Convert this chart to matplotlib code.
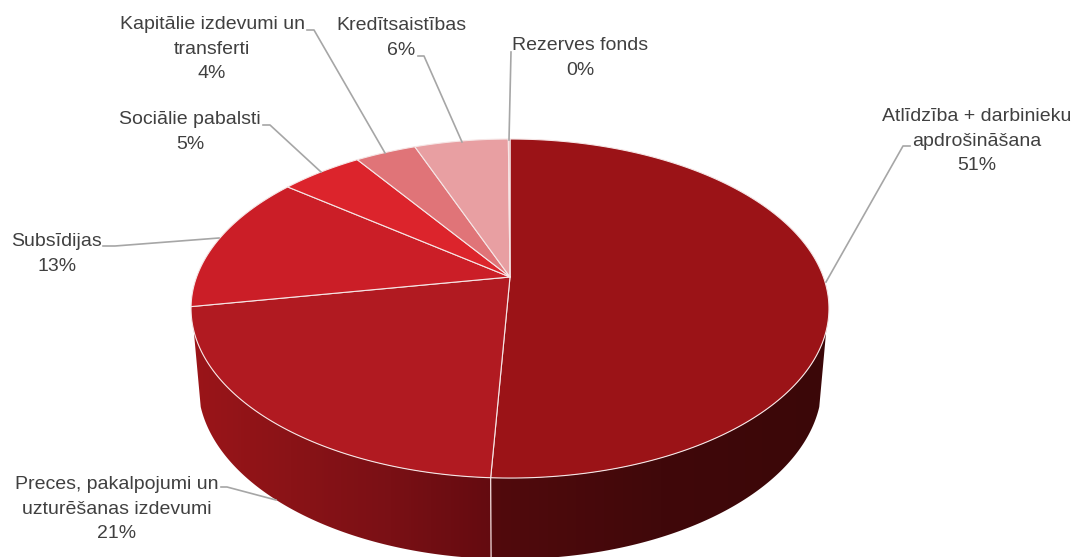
import numpy as np
import matplotlib
matplotlib.use('Agg')
import matplotlib.pyplot as plt
from matplotlib.colors import LinearSegmentedColormap
from matplotlib.patches import Polygon

plt.rcParams['font.family'] = ['Liberation Sans', 'DejaVu Sans']

# Data
labels = ['Atlīdzība + darbinieku\napdrošināšana', 'Preces, pakalpojumi un\nuzturēšanas izdevumi',
          'Subsīdijas', 'Sociālie pabalsti', 'Kapitālie izdevumi un\ntransferti',
          'Kredītsaistības', 'Rezerves fonds']
shares = [50.8, 21.4, 13.3, 5.0, 3.7, 5.7, 0.1]
colors = ['#9b1317', '#b11a21', '#cb1e27', '#dc242c', '#e07478', '#e89fa2', '#e9a5a8']

# Label centres and leader lines, in pixels
label_pos = [(977, 141), (117, 509), (57, 254), (190, 132), (212, 49), (401, 38), (580, 58)]
leaders = [
    [(826, 282), (903, 146), (910, 146)],
    [(221, 487), (227, 487), (276, 500)],
    [(103, 246), (115, 246), (219, 238)],
    [(263, 125), (270, 125), (321, 172)],
    [(307, 30), (314, 30), (385, 153)],
    [(418, 56), (424, 56), (462, 142)],
    [(511, 52), (509, 140)],
]


def project(theta, apex_y, a, b, cx=510.0, k=0.186):
    # theta is clockwise from 12 o'clock, in degrees; perspective disc
    t = np.radians(theta)
    u, v = np.sin(t), np.cos(t)
    d = 1 + k * v
    return cx + b * u / d, apex_y - a * v / d


def top(theta):
    return project(theta, 277.0, 163.65, 313.4)


def bottom(theta):
    return project(theta, 351.5, 169.0, 306.5)


fig = plt.figure(figsize=(10.78, 5.57), dpi=100)
ax = fig.add_axes([0, 0, 1, 1])
ax.set_xlim(0, 1078)
ax.set_ylim(557, 0)
ax.axis('off')

edges = np.cumsum([0] + shares) * 3.6

# Side wall with the two visible gradients
side_parts = [
    (108, edges[1], 491, 830, ['#520a0d', '#40080a', '#3b0708']),
    (edges[1], 252, 191, 491, ['#9b1519', '#8a1317', '#7a1015', '#640b10']),
]
for start, end, x0, x1, stops in side_parts:
    th = np.linspace(start, end, 120)
    tx, ty = top(th)
    bx, by = bottom(th)
    poly = Polygon(np.r_[np.c_[tx, ty], np.c_[bx, by][::-1]], closed=True, fc='none', ec='none')
    ax.add_patch(poly)
    cmap = LinearSegmentedColormap.from_list('side', stops)
    img = ax.imshow(np.linspace(0, 1, 256)[None, :], cmap=cmap, extent=(x0, x1, 600, 250),
                    aspect='auto', zorder=1)
    img.set_clip_path(poly)

ax.set_xlim(0, 1078)
ax.set_ylim(557, 0)

# Seam between the two side parts
sx, sy = top(edges[1])
bx, by = bottom(edges[1])
ax.plot([sx, bx], [sy, by], color='#f2dcdc', lw=0.9, zorder=2)

# Top face
for i in range(len(shares)):
    th = np.linspace(edges[i], edges[i + 1], 200)
    x, y = top(th)
    ax.fill(np.r_[510, x], np.r_[277, y], facecolor=colors[i], edgecolor='#f6e6e6', lw=0.8,
            joinstyle='round', zorder=3)

# Labels
for i in range(len(labels)):
    txt = labels[i] + '\n' + '%d%%' % round(shares[i])
    ax.text(label_pos[i][0], label_pos[i][1], txt, ha='center', va='center', fontsize=14,
            color='#404040', linespacing=1.58, zorder=5)
    pts = np.array(leaders[i])
    ax.plot(pts[:, 0], pts[:, 1], color='#a6a6a6', lw=1.2, zorder=4)

fig.savefig('out.png', dpi=100)
